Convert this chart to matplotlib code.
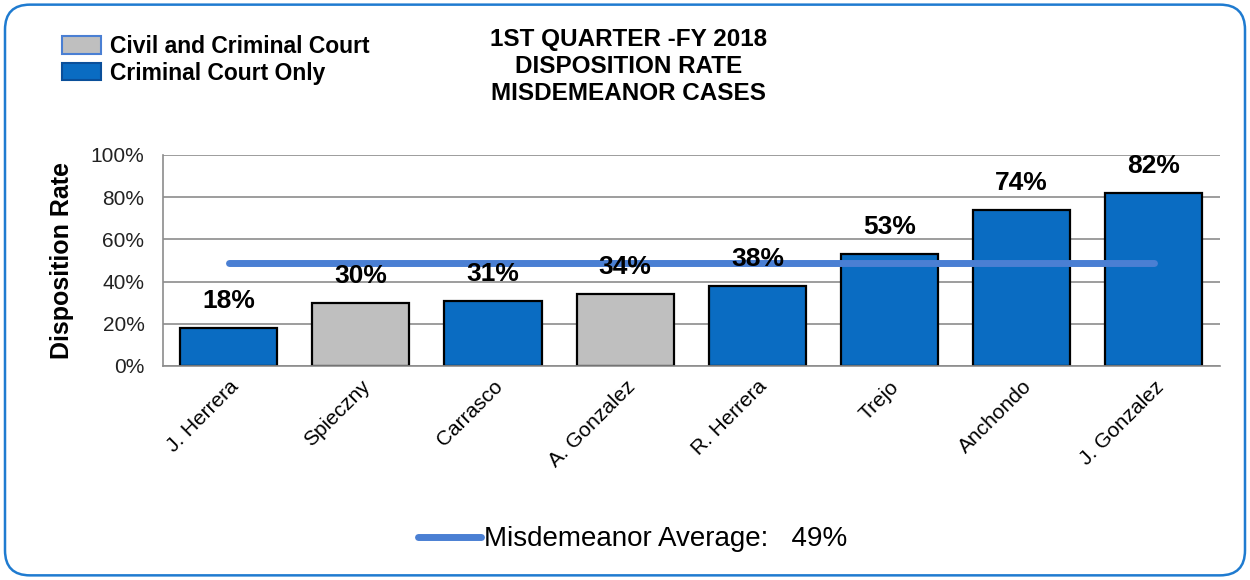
import matplotlib.pyplot as plt
from matplotlib.patches import FancyBboxPatch, Patch
from matplotlib.lines import Line2D

plt.rcParams['font.family'] = ['Liberation Sans', 'DejaVu Sans']

# datos
jueces = ['J. Herrera', 'Spieczny', 'Carrasco', 'A. Gonzalez', 'R. Herrera',
          'Trejo', 'Anchondo', 'J. Gonzalez']
tasas = [18, 30, 31, 34, 38, 53, 74, 82]
tipo_corte = ['criminal', 'civil', 'criminal', 'civil', 'criminal',
              'criminal', 'criminal', 'criminal']
promedio = 49
ticks_y = [0, 20, 40, 60, 80, 100]

azul = '#0a6cc2'
gris = '#bfbfbf'
colores = [azul if t == 'criminal' else gris for t in tipo_corte]

fig = plt.figure(figsize=(12.5, 5.8), dpi=100)
ax = fig.add_axes([0.130, 0.369, 0.846, 0.364])

x = list(range(len(jueces)))
ax.bar(x, tasas, width=0.735, color=colores, edgecolor='black', linewidth=1.6, zorder=2)
ax.plot([x[0], x[-1]], [promedio, promedio], color='#4a7fd3', linewidth=5,
        solid_capstyle='round', zorder=3)

for i, v in enumerate(tasas):
    ax.text(i, v + 7, f'{v}%', ha='center', va='bottom', fontsize=19,
            fontweight='bold', zorder=4)

ax.set_xlim(-0.5, len(jueces) - 0.5)
ax.set_ylim(0, 100)
ax.set_yticks(ticks_y)
ax.set_yticklabels([f'{t}%' for t in ticks_y], fontsize=15, color='#222222')
ax.set_xticks(x)
ax.set_xticklabels(jueces, rotation=45, ha='right', rotation_mode='anchor', fontsize=15)
ax.tick_params(axis='y', length=0, pad=13)
ax.tick_params(axis='x', length=0, pad=8)
ax.yaxis.grid(True, color='#8c8c8c', linewidth=1.2, zorder=0)
ax.set_axisbelow(True)
for lado in ['top', 'right']:
    ax.spines[lado].set_visible(False)
ax.spines['left'].set_color('#8c8c8c')
ax.spines['bottom'].set_color('#8c8c8c')
ax.spines['left'].set_linewidth(1.2)
ax.spines['bottom'].set_linewidth(1.2)
ax.set_ylabel('Disposition Rate', fontsize=18, fontweight='bold', labelpad=12)

fig.text(0.503, 0.952, '1ST QUARTER -FY 2018\nDISPOSITION RATE\nMISDEMEANOR CASES',
         ha='center', va='top', fontsize=17.5, fontweight='bold', linespacing=1.22)

# leyenda de tipos de corte
handles = [Patch(facecolor=gris, edgecolor='#4a7fd3', linewidth=1.5),
           Patch(facecolor=azul, edgecolor='#0a4f9a', linewidth=1.5)]
fig.legend(handles, ['Civil and Criminal Court', 'Criminal Court Only'],
           loc='upper left', bbox_to_anchor=(0.033, 0.975), frameon=False,
           handlelength=1.7, handleheight=0.8, handletextpad=0.4,
           labelspacing=0.15, prop={'weight': 'bold', 'size': 16.5})

# leyenda del promedio
linea = Line2D([0], [0], color='#4a7fd3', linewidth=5, solid_capstyle='round')
fig.legend([linea], [f'Misdemeanor Average:   {promedio}%'], loc='center',
           bbox_to_anchor=(0.506, 0.07), frameon=False, fontsize=20,
           handlelength=2.3, handletextpad=0.1)

# borde redondeado
borde = FancyBboxPatch((0.004, 0.008), 0.992, 0.984, boxstyle='round,pad=0,rounding_size=0.02',
                       transform=fig.transFigure, facecolor='none', edgecolor='#1f7bd0',
                       linewidth=1.8, mutation_aspect=12.5 / 5.8)
fig.patches.append(borde)

plt.savefig('out.png', dpi=100)
